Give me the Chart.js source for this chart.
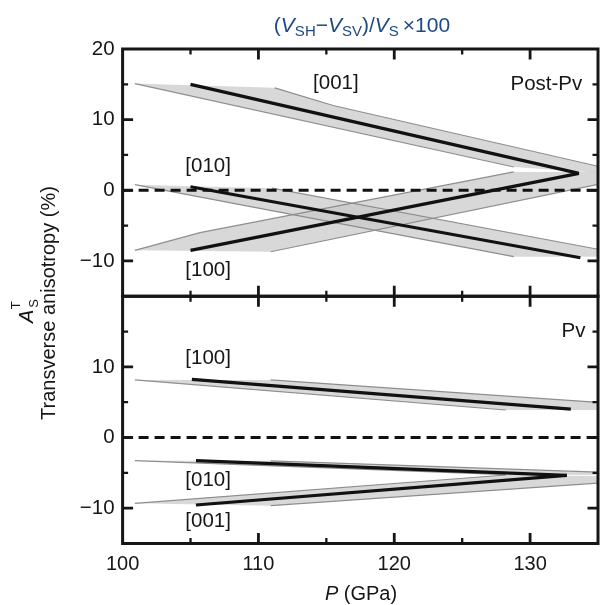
<!DOCTYPE html>
<html>
<head>
<meta charset="utf-8">
<script src="https://cdn.jsdelivr.net/npm/chart.js@4.4.1/dist/chart.umd.min.js"></script>
<style>
  html, body { margin: 0; padding: 0; background: #fff; }
  #wrap { width: 600px; height: 605px; }
</style>
</head>
<body>
<div id="wrap"><canvas id="aniso-chart" width="600" height="605"></canvas></div>
<script>
// --- Data: P (GPa) vs A_S^T (%) ---
const pressureTicks = [100, 110, 120, 130];
const topTicks = [-10, 0, 10, 20];
const bottomTicks = [-10, 0, 10];

// Post-Pv, mean trends
const postPv001 = [[105.0, 15.0], [133.6, 2.4]];
const postPv010 = [[105.0, 0.5], [133.7, -9.55]];
const postPv100 = [[105.0, -8.5], [133.6, 2.4]];

// Post-Pv, uncertainty bands (left edge, closing cap, right edge)
const postPv001Left = [[100.9, 15.1], [128.8, 3.3]];
const postPv001Cap = [[135, 2.5]];
const postPv001Right = [[111.2, 14.5], [115.5, 12.0], [135, 3.4]];
const postPv010Left = [[100.9, 0.8], [128.8, -9.4]];
const postPv010Cap = [[135, -9.4]];
const postPv010Right = [[111.0, 0.3], [135, -8.35]];
const postPv100Left = [[100.9, -8.5], [105.7, -6.0], [128.8, 2.6]];
const postPv100Cap = [[135, 2.6]];
const postPv100Right = [[110.9, -8.7], [135, 0.85]];

// Pv, mean trends
const pv100 = [[105.1, 8.23], [133.0, 4.03]];
const pv010 = [[105.4, -3.28], [132.7, -5.35]];
const pv001 = [[105.4, -9.55], [132.7, -5.35]];

// Pv, uncertainty bands
const pv100Left = [[100.9, 8.15], [128.2, 3.9]];
const pv100Cap = [[135, 3.9]];
const pv100Right = [[110.9, 8.15], [135, 4.98]];
const pv010Left = [[100.9, -3.28], [128.2, -5.25]];
const pv010Cap = [[135, -5.3]];
const pv010Right = [[110.9, -3.3], [135, -4.9]];
const pv001Left = [[100.9, -9.31], [128.2, -5.3]];
const pv001Cap = [[135, -5.45]];
const pv001Right = [[110.9, -9.64], [135, -6.45]];

const zeroRef = [[100, 0], [135, 0]];
// ------------------

const FONT = "'Liberation Sans', Arial, Helvetica, sans-serif";
const INK = '#161616';

function toPoints(pairs) {
    return pairs.map(([x, y]) => ({ x, y }));
}

function trendLine(pairs, axis) {
    return { data: toPoints(pairs), yAxisID: axis, borderColor: '#111', borderWidth: 3.2,
             pointRadius: 0, fill: false, order: 1, borderCapStyle: 'butt' };
}

function edgeLine(pairs, axis) {
    return { data: toPoints(pairs), yAxisID: axis, borderColor: '#8e8e8e', borderWidth: 1.2,
             pointRadius: 0, fill: false, order: 3 };
}

function band(left, cap, right, axis) {
    const ring = [...left, ...cap, ...right.slice().reverse()];
    return [
        { data: toPoints(ring), yAxisID: axis, fill: 'shape', backgroundColor: 'rgba(200,200,200,0.7)',
          borderColor: 'rgba(0,0,0,0)', borderWidth: 1, pointRadius: 0, order: 4 },
        edgeLine(left, axis),
        edgeLine(right, axis)
    ];
}

function zeroLine(axis) {
    return { data: toPoints(zeroRef), yAxisID: axis, borderColor: '#111', borderWidth: 3,
             borderDash: [10, 6], pointRadius: 0, fill: false, order: 2 };
}

const datasets = [
    ...band(postPv001Left, postPv001Cap, postPv001Right, 'yTop'),
    ...band(postPv010Left, postPv010Cap, postPv010Right, 'yTop'),
    ...band(postPv100Left, postPv100Cap, postPv100Right, 'yTop'),
    ...band(pv100Left, pv100Cap, pv100Right, 'yBot'),
    ...band(pv010Left, pv010Cap, pv010Right, 'yBot'),
    ...band(pv001Left, pv001Cap, pv001Right, 'yBot'),
    zeroLine('yTop'),
    zeroLine('yBot'),
    trendLine(postPv001, 'yTop'),
    trendLine(postPv010, 'yTop'),
    trendLine(postPv100, 'yTop'),
    trendLine(pv100, 'yBot'),
    trendLine(pv010, 'yBot'),
    trendLine(pv001, 'yBot')
];

// text placed in data coordinates of each panel
const panelLabels = [
    { text: '[001]', x: 115.7, y: 15.2, axis: 'yTop' },
    { text: 'Post-Pv', x: 131.2, y: 15.0, axis: 'yTop' },
    { text: '[010]', x: 106.3, y: 3.35, axis: 'yTop' },
    { text: '[100]', x: 106.3, y: -11.4, axis: 'yTop' },
    { text: '[100]', x: 106.3, y: 11.2, axis: 'yBot' },
    { text: 'Pv', x: 133.2, y: 15.0, axis: 'yBot' },
    { text: '[010]', x: 106.3, y: -6.0, axis: 'yBot' },
    { text: '[001]', x: 106.3, y: -11.9, axis: 'yBot' }
];

function drawRuns(ctx, runs, x, y, align) {
    let total = 0;
    runs.forEach(r => { ctx.font = r.font; total += ctx.measureText(r.text).width; });
    let cx = align === 'center' ? x - total / 2 : x;
    runs.forEach(r => {
        ctx.font = r.font;
        ctx.fillText(r.text, cx, y + (r.dy || 0));
        cx += ctx.measureText(r.text).width + (r.after || 0);
    });
}

const framePlugin = {
    id: 'frame',
    afterDraw(chart) {
        const ctx = chart.ctx;
        const xs = chart.scales.x;
        ctx.save();
        ctx.strokeStyle = INK;
        ctx.lineCap = 'butt';

        ['yTop', 'yBot'].forEach(id => {
            const ys = chart.scales[id];
            const left = xs.left, right = xs.right, top = ys.top, bottom = ys.bottom;

            [105, 110, 115, 120, 125, 130].forEach(p => {
                const px = xs.getPixelForValue(p);
                const len = p % 10 === 0 ? 10.5 : 5.5;
                ctx.lineWidth = p % 10 === 0 ? 2.8 : 2.3;
                ctx.beginPath();
                ctx.moveTo(px, top); ctx.lineTo(px, top + len);
                ctx.moveTo(px, bottom); ctx.lineTo(px, bottom - len);
                ctx.stroke();
            });
            [-10, -5, 0, 5, 10, 15].forEach(v => {
                const py = ys.getPixelForValue(v);
                const len = v % 10 === 0 ? 10.5 : 5.5;
                ctx.lineWidth = v % 10 === 0 ? 2.8 : 2.3;
                ctx.beginPath();
                ctx.moveTo(left, py); ctx.lineTo(left + len, py);
                ctx.moveTo(right, py); ctx.lineTo(right - len, py);
                ctx.stroke();
            });

            ctx.lineWidth = 3;
            ctx.strokeRect(left, top, right - left, bottom - top);
        });

        // panel annotations
        ctx.fillStyle = INK;
        ctx.font = `20.5px ${FONT}`;
        ctx.textAlign = 'center';
        ctx.textBaseline = 'middle';
        panelLabels.forEach(l => {
            ctx.fillText(l.text, xs.getPixelForValue(l.x), chart.scales[l.axis].getPixelForValue(l.y));
        });

        // top title
        ctx.textAlign = 'left';
        ctx.textBaseline = 'alphabetic';
        ctx.fillStyle = '#1d4a82';
        const big = `21px ${FONT}`, ital = `italic 21px ${FONT}`, sub = `15px ${FONT}`;
        drawRuns(ctx, [
            { text: '(', font: big },
            { text: 'V', font: ital },
            { text: 'SH', font: sub, dy: 4.5 },
            { text: '\u2212', font: big },
            { text: 'V', font: ital },
            { text: 'SV', font: sub, dy: 4.5 },
            { text: ')/', font: big },
            { text: 'V', font: ital },
            { text: 'S', font: sub, dy: 4.5, after: 4 },
            { text: '\u00d7100', font: big }
        ], 360, 31.5, 'center');

        // x title
        ctx.fillStyle = INK;
        drawRuns(ctx, [
            { text: 'P', font: `italic 20px ${FONT}` },
            { text: ' (GPa)', font: `20px ${FONT}` }
        ], 361, 600, 'center');

        // y title, two rotated lines
        ctx.save();
        ctx.translate(55, 303);
        ctx.rotate(-Math.PI / 2);
        ctx.textAlign = 'center';
        ctx.font = `20px ${FONT}`;
        ctx.fillText('Transverse anisotropy (%)', 0, 0);
        ctx.restore();

        ctx.save();
        ctx.translate(33, 323);
        ctx.rotate(-Math.PI / 2);
        ctx.textAlign = 'left';
        ctx.font = `italic 20px ${FONT}`;
        ctx.fillText('A', 0, 0);
        const aw = ctx.measureText('A').width;
        ctx.font = `13px ${FONT}`;
        ctx.fillText('T', aw + 0.5, -13.5);
        ctx.fillText('S', aw + 2, 5);
        ctx.restore();

        ctx.restore();
    }
};

function fixedTicks(values) {
    return scale => { scale.ticks = values.map(v => ({ value: v })); };
}

function tickText(v) {
    return v < 0 ? '\u2212' + Math.abs(v) : String(v);
}

const yCommon = {
    type: 'linear',
    position: 'left',
    stack: 'panels',
    stackWeight: 1,
    min: -15,
    max: 20,
    grid: { display: false, drawTicks: false },
    border: { display: false },
    ticks: { font: { family: FONT, size: 20.5 }, color: INK, padding: 8, autoSkip: false, callback: tickText },
    afterFit: scale => { scale.width = 122.6; }
};

new Chart(document.getElementById('aniso-chart'), {
    type: 'line',
    data: { datasets },
    options: {
        responsive: false,
        animation: false,
        devicePixelRatio: 1,
        events: [],
        layout: { padding: { top: 49, right: 2, left: 0, bottom: 0 } },
        plugins: { legend: { display: false }, tooltip: { enabled: false } },
        scales: {
            x: {
                type: 'linear',
                position: 'bottom',
                min: 100,
                max: 135,
                grid: { display: false, drawTicks: false },
                border: { display: false },
                ticks: { font: { family: FONT, size: 20 }, color: INK, padding: 9, maxRotation: 0, autoSkip: false },
                afterBuildTicks: fixedTicks(pressureTicks),
                afterFit: scale => { scale.height = 61.5; }
            },
            yBot: { ...yCommon, weight: 1, afterBuildTicks: fixedTicks(bottomTicks) },
            yTop: { ...yCommon, weight: 2, afterBuildTicks: fixedTicks(topTicks) }
        }
    },
    plugins: [framePlugin]
});
</script>
</body>
</html>
